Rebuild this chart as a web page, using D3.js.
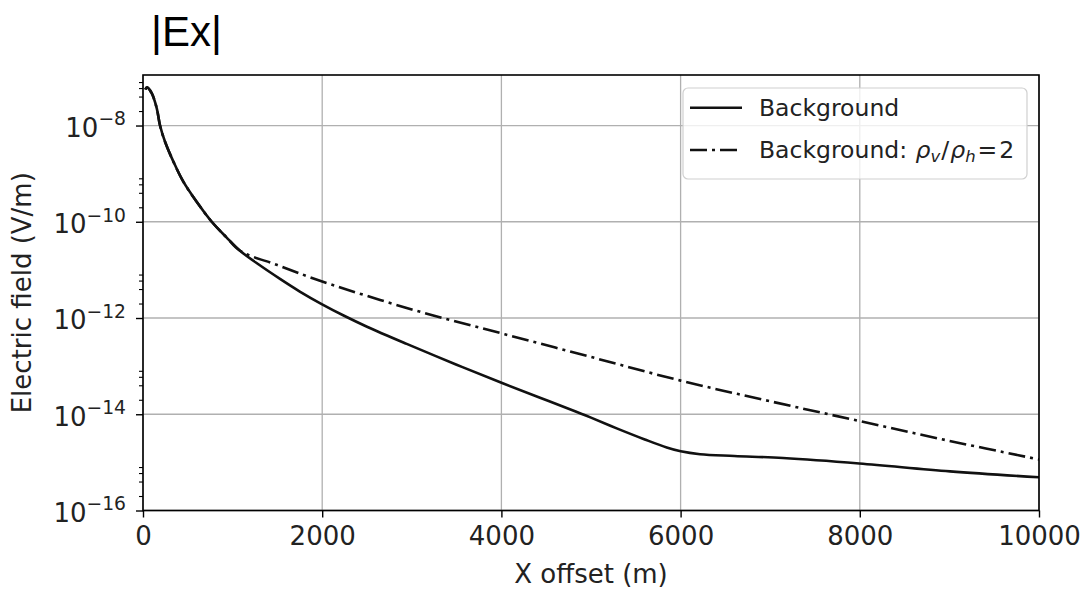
<!DOCTYPE html>
<html>
<head>
<meta charset="utf-8">
<script src="https://cdn.jsdelivr.net/npm/d3@7"></script>
<style>
  html, body { margin: 0; padding: 0; background: #fff; }
  svg { display: block; font-family: "DejaVu Sans", sans-serif; }
</style>
</head>
<body>
<svg id="chart" width="1085" height="591"></svg>
<script>
// ---- data ----
const titleText = "|Ex|";
const xLabel = "X offset (m)";
const yLabel = "Electric field (V/m)";
const xTicks = [0, 2000, 4000, 6000, 8000, 10000];
const yMajorExp = [-16, -14, -12, -10, -8];
const yMinorMult = [2, 4, 6, 8];

const bgX = [25, 45, 97, 153, 190, 246, 338, 450, 599, 767, 934, 1083, 1300, 1529, 1750, 1994, 2250, 2500, 2943, 3500, 4015, 4431, 4800, 5000, 5287, 5600, 5845, 6001, 6217, 6600, 7143, 7994, 9007, 10000];
const bgY = [5.6e-8, 6.2e-8, 4.7e-8, 2.3e-8, 1.0e-8, 4.6e-9, 1.8e-9, 6.8e-10, 2.6e-10, 1.0e-10, 4.7e-11, 2.5e-11, 1.26e-11, 6.5e-12, 3.55e-12, 1.95e-12, 1.1e-12, 6.6e-13, 2.9e-13, 1.07e-13, 4.4e-14, 2.2e-14, 1.2e-14, 8.5e-15, 5.1e-15, 3.0e-15, 2.04e-15, 1.7e-15, 1.48e-15, 1.36e-15, 1.23e-15, 9.5e-16, 6.5e-16, 4.9e-16];

const aniX = [25, 45, 97, 153, 190, 246, 338, 450, 599, 767, 934, 1083, 1500, 2000, 3000, 4000, 5000, 6000, 7000, 8000, 9000, 10000];
const aniY = [5.6e-8, 6.2e-8, 4.7e-8, 2.3e-8, 1.0e-8, 4.6e-9, 1.8e-9, 6.8e-10, 2.6e-10, 1.0e-10, 4.7e-11, 2.5e-11, 1.26e-11, 5.75e-12, 1.51e-12, 4.8e-13, 1.55e-13, 5.0e-14, 1.86e-14, 7.2e-15, 2.8e-15, 1.15e-15];

const seriesNames = ["Background", "Background: "];

// ---- layout ----
const L = 143, R = 1039, T = 75, B = 510.5;
const svg = d3.select("#chart");

const x = d3.scaleLinear().domain([0, 10000]).range([L, R]);
const y = d3.scaleLog().domain([1e-16, Math.pow(10, -6.95)]).range([B, T]);

const gridColor = "#b0b0b0";

// grid
const grid = svg.append("g");
grid.selectAll("line.vx").data(xTicks).join("line")
  .attr("x1", d => x(d)).attr("x2", d => x(d))
  .attr("y1", T).attr("y2", B)
  .attr("stroke", gridColor).attr("stroke-width", 1.3);
const yMajor = yMajorExp.map(e => Math.pow(10, e));
grid.selectAll("line.hy").data(yMajor).join("line")
  .attr("x1", L).attr("x2", R)
  .attr("y1", d => y(d)).attr("y2", d => y(d))
  .attr("stroke", gridColor).attr("stroke-width", 1.3);

// lines
svg.append("defs").append("clipPath").attr("id", "clip")
  .append("rect").attr("x", L).attr("y", T).attr("width", R - L).attr("height", B - T);

const line = d3.line().x(d => x(d[0])).y(d => y(d[1])).curve(d3.curveCatmullRom.alpha(0.5));
const plot = svg.append("g").attr("clip-path", "url(#clip)");
plot.append("path")
  .datum(aniX.map((v, i) => [v, aniY[i]]))
  .attr("d", line).attr("fill", "none")
  .attr("stroke", "#111").attr("stroke-width", 2.6)
  .attr("stroke-dasharray", "17,5,3,5");
plot.append("path")
  .datum(bgX.map((v, i) => [v, bgY[i]]))
  .attr("d", line).attr("fill", "none")
  .attr("stroke", "#111").attr("stroke-width", 2.6);

// axes
const xAxis = d3.axisBottom(x).tickValues(xTicks).tickSize(7).tickPadding(9)
  .tickFormat(d3.format("d"));
const gx = svg.append("g").attr("transform", `translate(0,${B})`).call(xAxis);
gx.select(".domain").remove();
gx.selectAll("line").attr("stroke", "#000").attr("stroke-width", 1.4);
gx.selectAll("text").attr("font-size", 26).attr("fill", "#222")
  .attr("font-family", "DejaVu Sans");

const yAxis = d3.axisLeft(y).tickValues(yMajor).tickSize(7).tickPadding(10).tickFormat(() => "");
const gy = svg.append("g").attr("transform", `translate(${L},0)`).call(yAxis);
gy.select(".domain").remove();
gy.selectAll("line").attr("stroke", "#000").attr("stroke-width", 1.4);
gy.selectAll(".tick text").attr("font-size", 26).attr("fill", "#222")
  .attr("font-family", "DejaVu Sans").attr("dy", "0.42em")
  .each(function (d) {
    const t = d3.select(this);
    const e = Math.round(Math.log10(d));
    t.append("tspan").text("10");
    t.append("tspan").attr("dy", "-0.62em").attr("font-size", "0.72em").text("\u2212" + Math.abs(e));
  });

const yMinor = [];
yMajorExp.forEach(e => yMinorMult.forEach(m => yMinor.push(m * Math.pow(10, e))));
const yAxisMinor = d3.axisLeft(y).tickValues(yMinor.filter(v => v <= y.domain()[1])).tickSize(4).tickFormat(() => "");
const gym = svg.append("g").attr("transform", `translate(${L},0)`).call(yAxisMinor);
gym.select(".domain").remove();
gym.selectAll("line").attr("stroke", "#000").attr("stroke-width", 1.1);

// spines
svg.append("rect").attr("x", L).attr("y", T).attr("width", R - L).attr("height", B - T)
  .attr("fill", "none").attr("stroke", "#000").attr("stroke-width", 1.6);

// axis labels
svg.append("text").attr("x", (L + R) / 2).attr("y", 583).attr("text-anchor", "middle")
  .attr("font-size", 26).attr("fill", "#222").text(xLabel);
svg.append("text").attr("transform", `translate(31,${(T + B) / 2}) rotate(-90)`)
  .attr("text-anchor", "middle").attr("font-size", 26).attr("fill", "#222").text(yLabel);

// title
svg.append("text").attr("x", 151).attr("y", 46)
  .attr("font-family", "Liberation Sans, Arial, sans-serif").attr("font-size", 42)
  .attr("fill", "#000").text(titleText);

// legend
const lg = svg.append("g");
lg.append("rect").attr("x", 683).attr("y", 88).attr("width", 344).attr("height", 91)
  .attr("rx", 5).attr("fill", "#fff").attr("fill-opacity", 0.8)
  .attr("stroke", "#d0d0d0").attr("stroke-width", 1.2);
const rows = [107.7, 150];
lg.append("line").attr("x1", 690).attr("x2", 742).attr("y1", rows[0]).attr("y2", rows[0])
  .attr("stroke", "#111").attr("stroke-width", 2.6);
lg.append("line").attr("x1", 690).attr("x2", 742).attr("y1", rows[1]).attr("y2", rows[1])
  .attr("stroke", "#111").attr("stroke-width", 2.6).attr("stroke-dasharray", "17,5,3,5");
lg.append("text").attr("x", 759).attr("y", rows[0] + 8.3).attr("font-size", 23.5)
  .attr("fill", "#222").text(seriesNames[0]);
const t2 = lg.append("text").attr("x", 759).attr("y", rows[1] + 8.3).attr("font-size", 23.5).attr("fill", "#222");
t2.append("tspan").text(seriesNames[1]);
t2.append("tspan").attr("font-style", "italic").attr("dx", 1).text("\u03c1");
t2.append("tspan").attr("font-style", "italic").attr("font-size", 16.5).attr("dy", 4).text("v");
t2.append("tspan").attr("dy", -4).attr("dx", 1).text("/");
t2.append("tspan").attr("font-style", "italic").attr("dx", 1).text("\u03c1");
t2.append("tspan").attr("font-style", "italic").attr("font-size", 16.5).attr("dy", 4).text("h");
t2.append("tspan").attr("dy", -4).attr("dx", 2).text("=");
t2.append("tspan").attr("dx", 2).text("2");
</script>
</body>
</html>
